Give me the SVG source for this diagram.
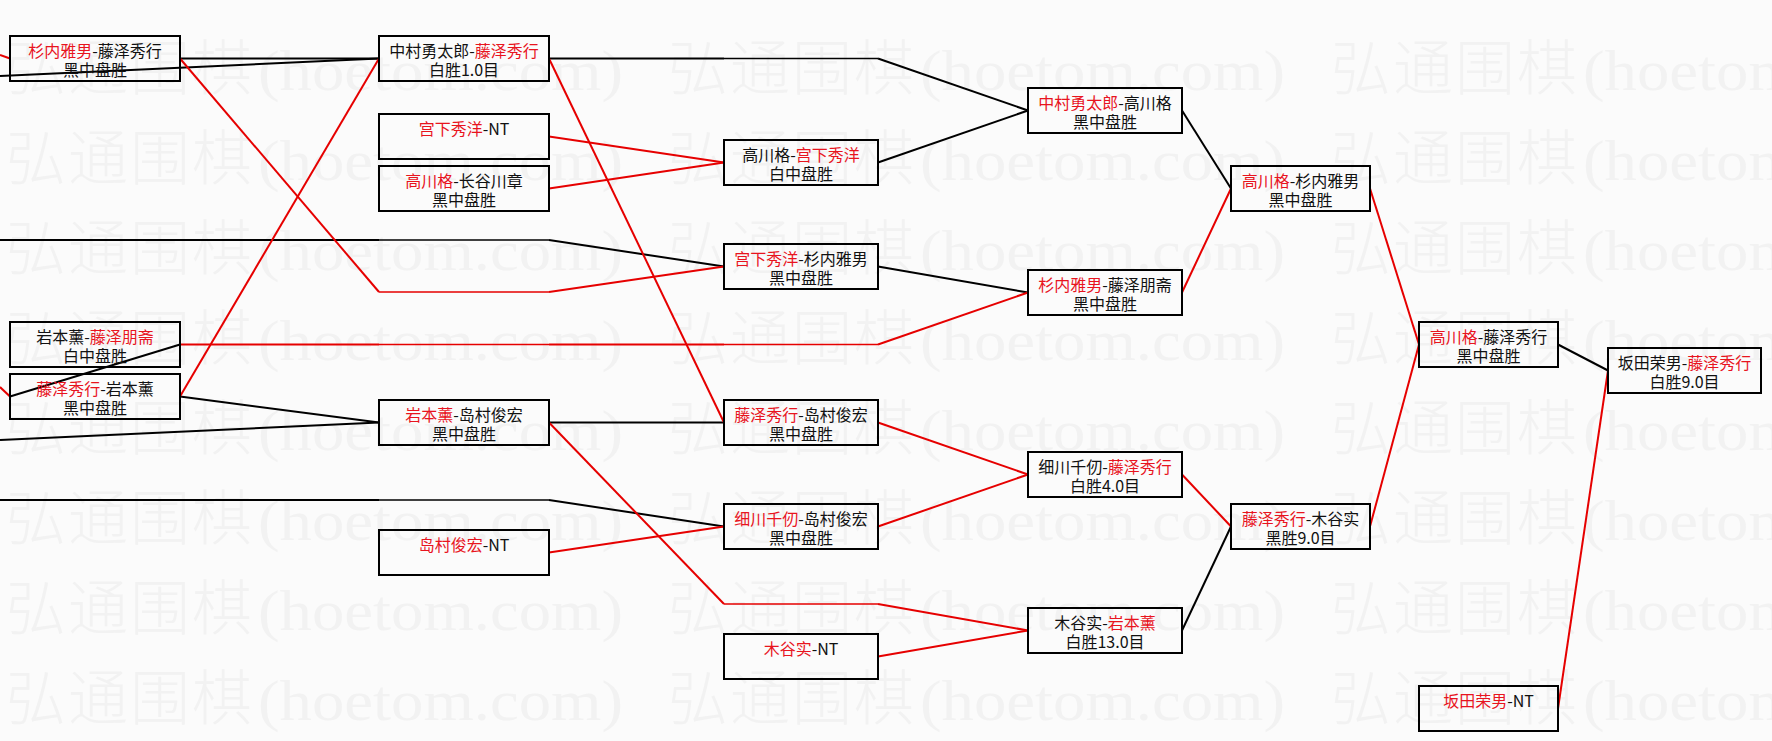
<svg xmlns="http://www.w3.org/2000/svg" xmlns:xlink="http://www.w3.org/1999/xlink" width="1772" height="741" viewBox="0 0 1772 741">
<style>
.bg{fill:#fbfbfb}
.wmc{font-family:"Noto Sans CJK SC",sans-serif;font-size:60px;font-weight:300;letter-spacing:2px;fill:#f2f2f2}
.wma{font-family:"Liberation Serif",serif;font-size:56px;fill:#f2f2f2}
.box{fill:none;stroke:#000;stroke-width:2}
.t{font-family:"Noto Sans CJK SC",sans-serif;font-size:16px;fill:#111;text-anchor:middle}
.r{fill:#e8141e}
.cb{stroke:#000;stroke-width:2;fill:none}
.cr{stroke:#e60000;stroke-width:2;fill:none}
.thin{stroke-width:1.3}
</style>
<defs>
<g id="wmrow">
<text class="wmc" x="6" y="0">弘通围棋</text><text class="wma" x="258" y="0" textLength="365" lengthAdjust="spacingAndGlyphs">(hoetom.com)</text>
<text class="wmc" x="668" y="0">弘通围棋</text><text class="wma" x="920" y="0" textLength="365" lengthAdjust="spacingAndGlyphs">(hoetom.com)</text>
<text class="wmc" x="1331" y="0">弘通围棋</text><text class="wma" x="1583" y="0" textLength="365" lengthAdjust="spacingAndGlyphs">(hoetom.com)</text>
</g>
</defs>
<rect class="bg" x="0" y="0" width="1772" height="741"/>
<g id="watermark">
<use xlink:href="#wmrow" href="#wmrow" y="90"/>
<use xlink:href="#wmrow" href="#wmrow" y="180"/>
<use xlink:href="#wmrow" href="#wmrow" y="270"/>
<use xlink:href="#wmrow" href="#wmrow" y="360"/>
<use xlink:href="#wmrow" href="#wmrow" y="450"/>
<use xlink:href="#wmrow" href="#wmrow" y="540"/>
<use xlink:href="#wmrow" href="#wmrow" y="630"/>
<use xlink:href="#wmrow" href="#wmrow" y="720"/>
</g>
<g id="connectors">
<path class="cb" d="M0,76 L379,58.5"/>
<path class="cb" d="M180,58.5 L379,58.5"/>
<path class="cb" d="M0,240 L379,240"/>
<path class="cb thin" d="M379,240 L549,240"/>
<path class="cb" d="M549,240 L724,266.5"/>
<path class="cb" d="M10,396.5 L180,344.5"/>
<path class="cb" d="M180,396.5 L379,422.5"/>
<path class="cb" d="M0,440 L379,422.5"/>
<path class="cb" d="M549,422.5 L724,422.5"/>
<path class="cb" d="M0,500 L379,500"/>
<path class="cb thin" d="M379,500 L549,500"/>
<path class="cb" d="M549,500 L724,526.5"/>
<path class="cb" d="M549,58.5 L724,58.5"/>
<path class="cb thin" d="M724,58.5 L878,58.5"/>
<path class="cb" d="M878,58.5 L1028,110.5"/>
<path class="cb" d="M878,162.5 L1028,110.5"/>
<path class="cb" d="M878,266.5 L1028,292.5"/>
<path class="cb" d="M1182,110.5 L1231,188.5"/>
<path class="cb" d="M1182,630.5 L1231,526.5"/>
<path class="cb" d="M1558,344.5 L1608,370.5"/>
<path class="cr" d="M0,55 L10,58.5"/>
<path class="cr" d="M180,58.5 L379,292"/>
<path class="cr thin" d="M379,292 L549,292"/>
<path class="cr" d="M549,292 L724,266.5"/>
<path class="cr" d="M180,396.5 L379,58.5"/>
<path class="cr" d="M0,387 L10,396.5"/>
<path class="cr" d="M180,344.5 L379,344.5"/>
<path class="cr thin" d="M379,344.5 L549,344.5"/>
<path class="cr" d="M549,344.5 L724,344.5"/>
<path class="cr thin" d="M724,344.5 L878,344.5"/>
<path class="cr" d="M878,344.5 L1028,292.5"/>
<path class="cr" d="M549,136.5 L724,162.5"/>
<path class="cr" d="M549,188.5 L724,162.5"/>
<path class="cr" d="M549,58.5 L724,422.5"/>
<path class="cr" d="M549,422.5 L724,604"/>
<path class="cr thin" d="M724,604 L878,604"/>
<path class="cr" d="M878,604 L1028,630.5"/>
<path class="cr" d="M549,552.5 L724,526.5"/>
<path class="cr" d="M878,422.5 L1028,474.5"/>
<path class="cr" d="M878,526.5 L1028,474.5"/>
<path class="cr" d="M878,656.5 L1028,630.5"/>
<path class="cr" d="M1182,292.5 L1231,188.5"/>
<path class="cr" d="M1182,474.5 L1231,526.5"/>
<path class="cr" d="M1370,188.5 L1419,344.5"/>
<path class="cr" d="M1370,526.5 L1419,344.5"/>
<path class="cr" d="M1558,708.5 L1608,370.5"/>
</g>
<g id="n1a"><rect class="box" x="10" y="36" width="170" height="45"/><text class="t" x="95" y="57"><tspan class="r">杉内雅男</tspan>-藤泽秀行</text><text class="t" x="95" y="76">黑中盘胜</text></g>
<g id="n1b"><rect class="box" x="10" y="322" width="170" height="45"/><text class="t" x="95" y="343">岩本薰-<tspan class="r">藤泽朋斋</tspan></text><text class="t" x="95" y="362">白中盘胜</text></g>
<g id="n1c"><rect class="box" x="10" y="374" width="170" height="45"/><text class="t" x="95" y="395"><tspan class="r">藤泽秀行</tspan>-岩本薰</text><text class="t" x="95" y="414">黑中盘胜</text></g>
<g id="n2a"><rect class="box" x="379" y="36" width="170" height="45"/><text class="t" x="464" y="57">中村勇太郎-<tspan class="r">藤泽秀行</tspan></text><text class="t" x="464" y="76">白胜1.0目</text></g>
<g id="n2b"><rect class="box" x="379" y="114" width="170" height="45"/><text class="t" x="464" y="135"><tspan class="r">宫下秀洋</tspan>-NT</text></g>
<g id="n2c"><rect class="box" x="379" y="166" width="170" height="45"/><text class="t" x="464" y="187"><tspan class="r">高川格</tspan>-长谷川章</text><text class="t" x="464" y="206">黑中盘胜</text></g>
<g id="n2d"><rect class="box" x="379" y="400" width="170" height="45"/><text class="t" x="464" y="421"><tspan class="r">岩本薰</tspan>-岛村俊宏</text><text class="t" x="464" y="440">黑中盘胜</text></g>
<g id="n2e"><rect class="box" x="379" y="530" width="170" height="45"/><text class="t" x="464" y="551"><tspan class="r">岛村俊宏</tspan>-NT</text></g>
<g id="n3a"><rect class="box" x="724" y="140" width="154" height="45"/><text class="t" x="801" y="161">高川格-<tspan class="r">宫下秀洋</tspan></text><text class="t" x="801" y="180">白中盘胜</text></g>
<g id="n3b"><rect class="box" x="724" y="244" width="154" height="45"/><text class="t" x="801" y="265"><tspan class="r">宫下秀洋</tspan>-杉内雅男</text><text class="t" x="801" y="284">黑中盘胜</text></g>
<g id="n3c"><rect class="box" x="724" y="400" width="154" height="45"/><text class="t" x="801" y="421"><tspan class="r">藤泽秀行</tspan>-岛村俊宏</text><text class="t" x="801" y="440">黑中盘胜</text></g>
<g id="n3d"><rect class="box" x="724" y="504" width="154" height="45"/><text class="t" x="801" y="525"><tspan class="r">细川千仞</tspan>-岛村俊宏</text><text class="t" x="801" y="544">黑中盘胜</text></g>
<g id="n3e"><rect class="box" x="724" y="634" width="154" height="45"/><text class="t" x="801" y="655"><tspan class="r">木谷实</tspan>-NT</text></g>
<g id="n4a"><rect class="box" x="1028" y="88" width="154" height="45"/><text class="t" x="1105" y="109"><tspan class="r">中村勇太郎</tspan>-高川格</text><text class="t" x="1105" y="128">黑中盘胜</text></g>
<g id="n4b"><rect class="box" x="1028" y="270" width="154" height="45"/><text class="t" x="1105" y="291"><tspan class="r">杉内雅男</tspan>-藤泽朋斋</text><text class="t" x="1105" y="310">黑中盘胜</text></g>
<g id="n4c"><rect class="box" x="1028" y="452" width="154" height="45"/><text class="t" x="1105" y="473">细川千仞-<tspan class="r">藤泽秀行</tspan></text><text class="t" x="1105" y="492">白胜4.0目</text></g>
<g id="n4d"><rect class="box" x="1028" y="608" width="154" height="45"/><text class="t" x="1105" y="629">木谷实-<tspan class="r">岩本薰</tspan></text><text class="t" x="1105" y="648">白胜13.0目</text></g>
<g id="n5a"><rect class="box" x="1231" y="166" width="139" height="45"/><text class="t" x="1300.5" y="187"><tspan class="r">高川格</tspan>-杉内雅男</text><text class="t" x="1300.5" y="206">黑中盘胜</text></g>
<g id="n5b"><rect class="box" x="1231" y="504" width="139" height="45"/><text class="t" x="1300.5" y="525"><tspan class="r">藤泽秀行</tspan>-木谷实</text><text class="t" x="1300.5" y="544">黑胜9.0目</text></g>
<g id="n6a"><rect class="box" x="1419" y="322" width="139" height="45"/><text class="t" x="1488.5" y="343"><tspan class="r">高川格</tspan>-藤泽秀行</text><text class="t" x="1488.5" y="362">黑中盘胜</text></g>
<g id="n6b"><rect class="box" x="1419" y="686" width="139" height="45"/><text class="t" x="1488.5" y="707"><tspan class="r">坂田荣男</tspan>-NT</text></g>
<g id="n7a"><rect class="box" x="1608" y="348" width="153" height="45"/><text class="t" x="1684.5" y="369">坂田荣男-<tspan class="r">藤泽秀行</tspan></text><text class="t" x="1684.5" y="388">白胜9.0目</text></g>
</svg>
